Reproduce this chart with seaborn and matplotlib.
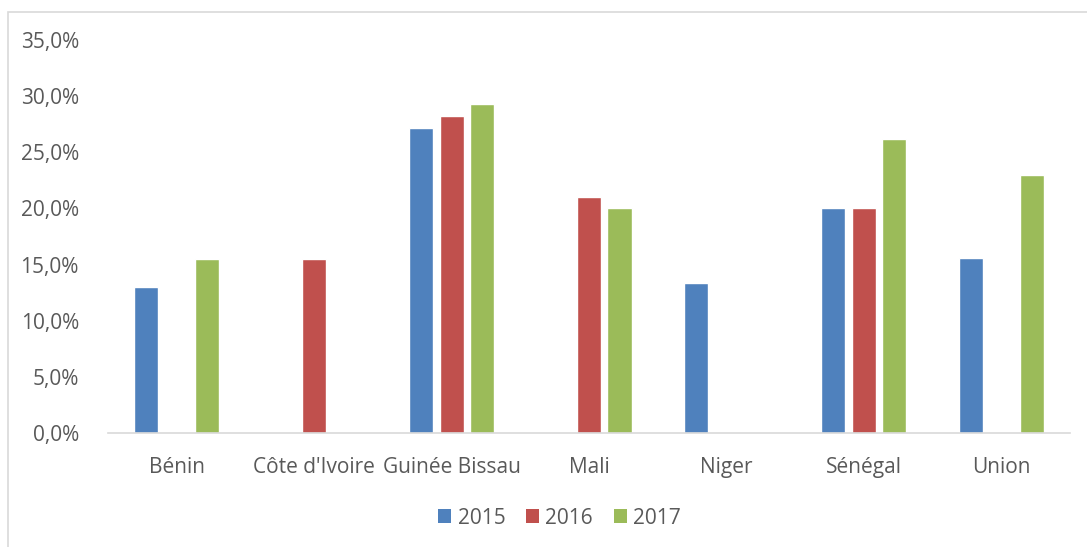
import numpy as np
import pandas as pd
import matplotlib
matplotlib.use("Agg")
import matplotlib.pyplot as plt
import seaborn as sns
from matplotlib.patches import Rectangle
from matplotlib.ticker import FuncFormatter

countries = ["Bénin", "Côte d'Ivoire", "Guinée Bissau", "Mali", "Niger", "Sénégal", "Union"]
years = ["2015", "2016", "2017"]
v2015 = [13.0, np.nan, 27.2, np.nan, 13.4, 20.0, 15.6]
v2016 = [np.nan, 15.5, 28.2, 21.0, np.nan, 20.0, np.nan]
v2017 = [15.5, np.nan, 29.3, 20.0, np.nan, 26.2, 23.0]
colors = ["#4F81BD", "#C0504D", "#9BBB59"]
yticks = [0, 5, 10, 15, 20, 25, 30, 35]

df = pd.DataFrame({
    "pays": countries * 3,
    "annee": [y for y in years for _ in countries],
    "taux": v2015 + v2016 + v2017,
})

sns.set_theme(style="white")
plt.rcParams["font.family"] = ["Open Sans", "DejaVu Sans"]
text_col = "#595959"
fs = 15

W, H = 1087, 547
fig = plt.figure(figsize=(W / 100, H / 100), dpi=100)
ax = fig.add_axes([108 / W, 1 - 433 / H, (1070 - 108) / W, (433 - 40) / H])

sns.barplot(data=df, x="pays", y="taux", hue="annee", order=countries,
            hue_order=years, palette=colors, width=0.666, gap=0.21,
            errorbar=None, saturation=1, legend=False, ax=ax)

ax.set_ylim(0, 35)
ax.set_xlim(-0.5, len(countries) - 0.5)
ax.set_yticks(yticks)
ax.yaxis.set_major_formatter(FuncFormatter(lambda v, p: f"{v:.1f}%".replace(".", ",")))
ax.set_xlabel("")
ax.set_ylabel("")
for s in ["top", "right", "left"]:
    ax.spines[s].set_visible(False)
ax.spines["bottom"].set_color("#D9D9D9")
ax.spines["bottom"].set_linewidth(1.2)
ax.tick_params(axis="both", length=0, labelsize=fs, colors=text_col)
ax.tick_params(axis="y", pad=21)
ax.tick_params(axis="x", pad=17)

# outer chart frame
fig.patches.append(Rectangle((8 / W, -0.1), 1.2, 1 - 12 / H + 0.1,
                             transform=fig.transFigure, fill=False,
                             edgecolor="#D9D9D9", linewidth=1.2))

handles = [Rectangle((0, 0), 1, 1, facecolor=c, edgecolor="none") for c in colors]
fig.legend(handles, years, loc="center", bbox_to_anchor=(559.5 / W, 1 - 518 / H),
           ncol=3, frameon=False, fontsize=fs, labelcolor=text_col,
           handlelength=0.62, handleheight=0.62, handletextpad=0.3,
           columnspacing=1.0)

fig.savefig("out.png", dpi=100, facecolor="white")
